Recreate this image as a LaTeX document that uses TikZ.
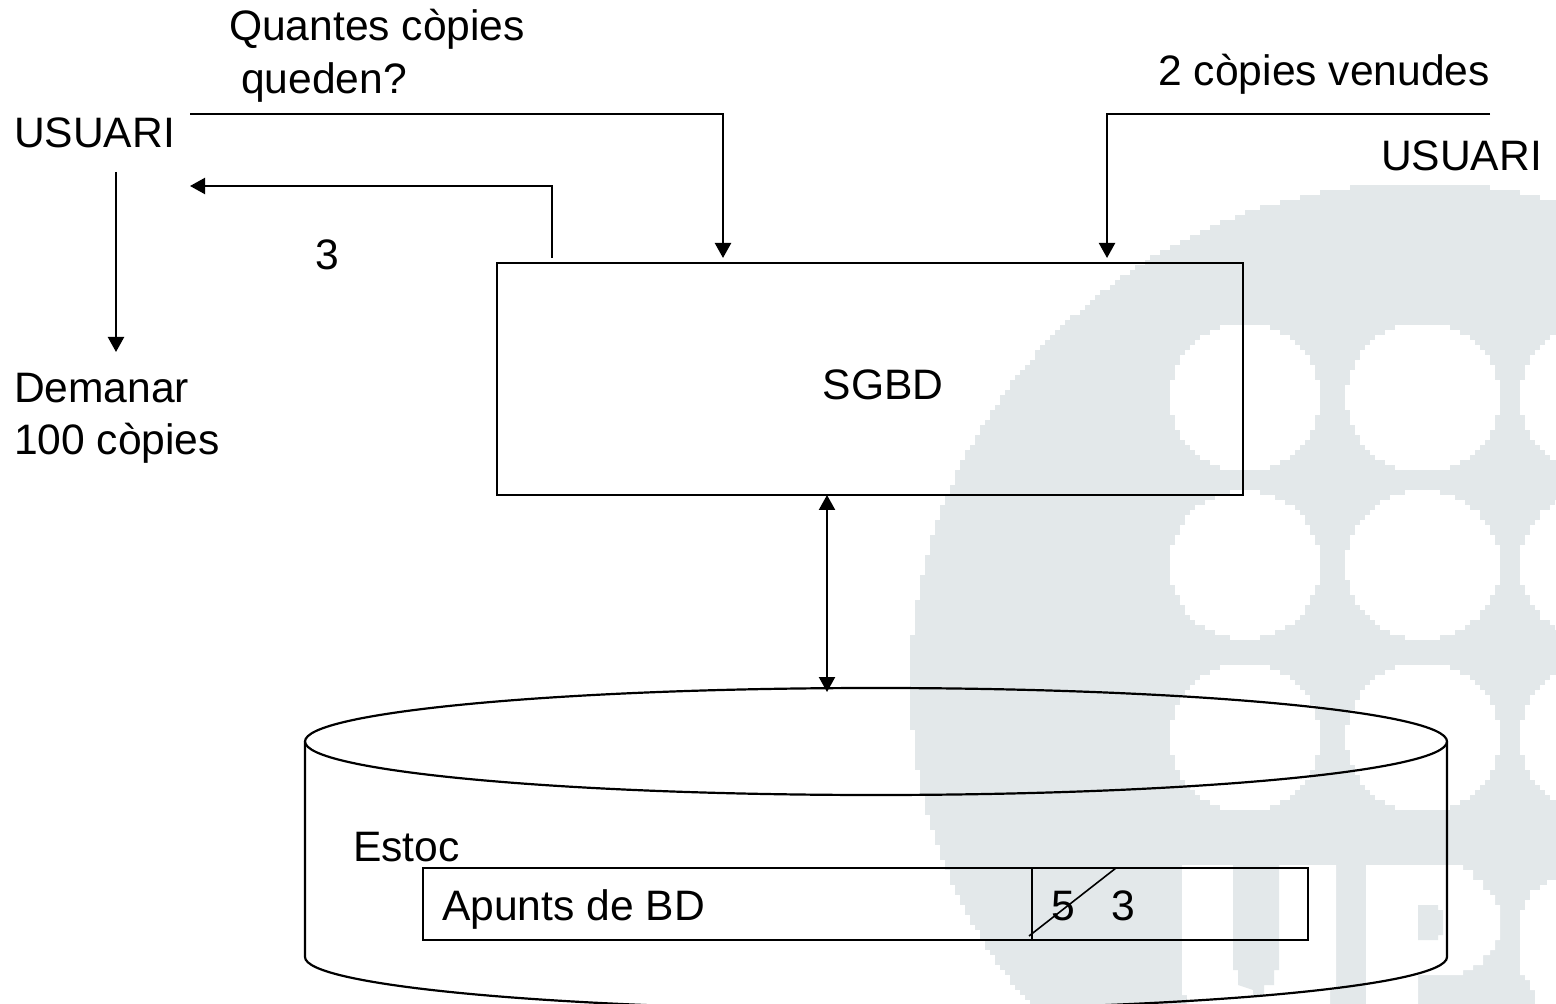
\documentclass[tikz,border=0pt]{standalone}
\usepackage{fontspec}
\setmainfont{Liberation Sans}
\usetikzlibrary{arrows.meta,calc}
\definecolor{wmgrey}{HTML}{E3E8EA}
\tikzset{
  line/.style={draw=black,line width=1.1pt},
  arrowline/.style={line,-{Triangle[length=7.5pt,width=8pt]}},
  dblarrow/.style={line,{Triangle[length=7.5pt,width=8pt]}-{Triangle[length=7.5pt,width=8pt]}},
  label/.style={anchor=base west,inner sep=0pt,outer sep=0pt,font=\fontsize{21.3pt}{25pt}\selectfont,text=black},
  sheet/.style={draw=black,line width=1.1pt,rectangle,inner sep=0pt,outer sep=0pt},
  hole/.style={fill=white,draw=none},
  tone/.style={fill=wmgrey,draw=none}
}
% stepped (low resolution) ellipse: #1 cx, #2 cy, #3 rx, #4 ry, #5 first row, #6 second row, #7 last row, #8 style
\newcommand{\stepoval}[8]{%
  \foreach \rowy in {#5,#6,...,#7}{%
    \pgfmathsetmacro{\rowd}{(\rowy+2.5-#2)/#4}%
    \pgfmathsetmacro{\rowh}{#3*sqrt(max(0,1-\rowd*\rowd))}%
    \pgfmathsetmacro{\rowl}{5*round((#1-\rowh)/5)}%
    \pgfmathsetmacro{\rowr}{5*round((#1+\rowh)/5)}%
    \path[#8] (\rowl,\rowy) rectangle (\rowr,\rowy+5.3);%
  }%
}
\begin{document}
\begin{tikzpicture}[x=0.5pt,y=-0.5pt]
\useasboundingbox (0,0) rectangle (1556,1004);
\begin{scope}
\clip (0,0) rectangle (1556,1004);
\fill[white] (0,0) rectangle (1556,1004);
% watermark
\stepoval{1420}{683}{510}{500}{185}{190}{1000}{tone}
\foreach \cx/\rx in {1245/75,1423/77,1597/77}{
  \stepoval{\cx}{397.5}{\rx}{74.5}{325}{330}{465}{hole}
  \stepoval{\cx}{565}{\rx}{74.5}{490}{495}{635}{hole}
  \stepoval{\cx}{737.5}{\rx}{74.5}{665}{670}{805}{hole}
}
% U
\path[hole] (1182,865) -- (1336,865) -- (1336,990) -- (1330,990) -- (1330,1004) -- (1187,1004) -- (1187,995) -- (1182,995) -- cycle;
\path[tone] (1233,865) -- (1279,865) -- (1279,970) -- (1274,970) -- (1274,985) -- (1264,985) -- (1264,990) -- (1264,995) -- (1253,995) -- (1253,990) -- (1238,985) -- (1238,970) -- (1233,970) -- cycle;
% P
\path[hole] (1366,865) -- (1463,865) |- (1473,870) |- (1483,880) |- (1490,890) |- (1495,895) |- (1500,905) -- (1500,940) -| (1495,950) -| (1490,955) -| (1483,965) -| (1473,970) -| (1463,975) -| (1418,980) -- (1418,1004) -- (1366,1004) -- cycle;
\path[tone] (1418,905) -- (1438,905) -- (1438,910) -- (1443,910) -- (1443,935) -- (1438,935) -- (1438,940) -- (1418,940) -- cycle;
% C
\path[hole] (1556,880) -| (1547,885) -| (1540,890) -| (1530,900) -| (1525,910) -| (1520,925) -- (1520,975) -| (1525,980) -| (1530,990) -| (1535,1004) -- (1556,1004) -- cycle;
% cylinder
\draw[line] (305,741.5) -- (305,957) arc[start angle=180,end angle=360,x radius=285.5pt,y radius=26.25pt] -- (1447,741.5);
\draw[line] (876,741.5) ellipse [x radius=285.5pt,y radius=26.75pt];
\end{scope}
% boxes
\node[sheet,minimum width=373pt,minimum height=116pt] (sgbd) at (870,379) {};
\node[sheet,minimum width=442.5pt,minimum height=36pt] (record) at (865.5,904) {};
% labels
\node[label] (l1) at (229,41) {Quantes còpies};
\node[label] (l2) at (241,94) {queden?};
\node[label,anchor=base east] (l3) at (1490,86) {2 còpies venudes};
\node[label] (l4) at (14,148) {USUARI};
\node[label] (l5) at (1381,171) {USUARI};
\node[label] (l6) at (315,270) {3};
\node[label] (l7) at (14,403) {Demanar};
\node[label] (l8) at (14,455) {100 còpies};
\node[label,anchor=base] (l9) at (883,400) {SGBD};
\node[label] (l10) at (353,861) {Estoc};
\node[label] (l11) at (442,920) {Apunts de BD};
\node[label] (l12) at (1051,920) {5};
\node[label] (l13) at (1111,920) {3};
% connector ends
\coordinate (qs) at (190,114);
\coordinate (qc) at (723,114);
\coordinate (qe) at (723,258);
\coordinate (rs) at (552,258);
\coordinate (rc) at (552,186);
\coordinate (re) at (190,186);
\coordinate (ds) at (116,172);
\coordinate (de) at (116,352);
\coordinate (vs) at (1490,114);
\coordinate (vc) at (1107,114);
\coordinate (ve) at (1107,258);
\coordinate (dba) at (827,495);
\coordinate (dbb) at (827,692);
\coordinate (d1) at (1032,868);
\coordinate (d2) at (1032,940);
\coordinate (s1) at (1029,936);
\coordinate (s2) at (1116,868);
% connectors
\draw[arrowline] (qs) -- (qc) -- (qe);
\draw[arrowline] (rs) -- (rc) -- (re);
\draw[arrowline] (ds) -- (de);
\draw[arrowline] (vs) -- (vc) -- (ve);
\draw[dblarrow] (dba) -- (dbb);
\draw[line] (d1) -- (d2);
\draw[line,line width=0.8pt] (s1) -- (s2);
\end{tikzpicture}
\end{document}
